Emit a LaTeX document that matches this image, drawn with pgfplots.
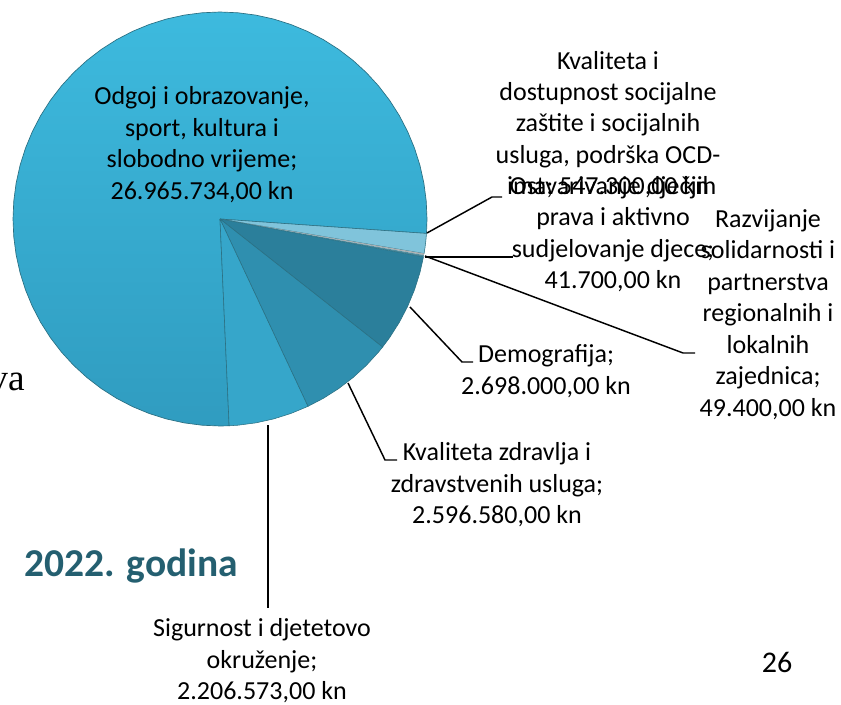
\documentclass[border=0pt]{standalone}
\usepackage{pgfplots}
\pgfplotsset{compat=1.18}
\usepackage{fontspec}
\setmainfont{Carlito}
\newfontfamily\seriffont{Liberation Serif}
\definecolor{cOdgT}{HTML}{3DBADE}
\definecolor{cOdgB}{HTML}{309CC0}
\definecolor{cSoc}{HTML}{80C4DB}
\definecolor{cOst}{HTML}{AEB2B4}
\definecolor{cRaz}{HTML}{4F8C9E}
\definecolor{cDem}{HTML}{2B7F9B}
\definecolor{cZdr}{HTML}{2F8FAF}
\definecolor{cSig}{HTML}{36A6CA}
\definecolor{cEdge}{HTML}{2A6F82}
\definecolor{cTitle}{HTML}{245F70}
\newcommand{\lab}{\fontsize{19.5}{23.6}\selectfont}
\begin{document}
\begin{tikzpicture}
\begin{axis}[name=ax, hide axis, x=0.75pt, y=0.75pt, scale only axis,
  xmin=-220, xmax=621, ymin=-485, ymax=219, clip=false]
% Odgoj i obrazovanje: 26.965.734,00 kn (276.53 deg)
\addplot[data cs=polar, top color=cOdgT, bottom color=cOdgB, draw=cEdge, line width=0.5pt] coordinates {
(0,0) (-4,207) (0,207) (5,207) (10,207) (15,207) (20,207) (25,207) (30,207) (35,207) (40,207)
(45,207) (50,207) (55,207) (60,207) (65,207) (70,207) (75,207) (80,207) (85,207) (90,207)
(95,207) (100,207) (105,207) (110,207) (115,207) (120,207) (125,207) (130,207) (135,207)
(140,207) (145,207) (150,207) (155,207) (160,207) (165,207) (170,207) (175,207) (180,207)
(185,207) (190,207) (195,207) (200,207) (205,207) (210,207) (215,207) (220,207) (225,207)
(230,207) (235,207) (240,207) (245,207) (250,207) (255,207) (260,207) (265,207) (270,207)
(272.53,207) (0,0)};
% Kvaliteta i dostupnost socijalne zastite: 547.300,00 kn
\addplot[data cs=polar, fill=cSoc, draw=cEdge, line width=0.4pt] coordinates {
(0,0) (-4,207) (-6,207) (-8,207) (-9.61,207) (0,0)};
% Ostvarivanje djecjih prava: 41.700,00 kn
\addplot[data cs=polar, fill=cOst, draw=none] coordinates {
(0,0) (-9.61,207) (-10.04,207) (0,0)};
% Razvijanje solidarnosti: 49.400,00 kn
\addplot[data cs=polar, fill=cRaz, draw=none] coordinates {
(0,0) (-10.04,207) (-10.55,207) (0,0)};
% Demografija: 2.698.000,00 kn
\addplot[data cs=polar, fill=cDem, draw=cEdge, line width=0.4pt] coordinates {
(0,0) (-10.55,207) (-15,207) (-20,207) (-25,207) (-30,207) (-35,207) (-38.22,207) (0,0)};
% Kvaliteta zdravlja: 2.596.580,00 kn
\addplot[data cs=polar, fill=cZdr, draw=cEdge, line width=0.4pt] coordinates {
(0,0) (-38.22,207) (-40,207) (-45,207) (-50,207) (-55,207) (-60,207) (-64.85,207) (0,0)};
% Sigurnost i djetetovo okruzenje: 2.206.573,00 kn
\addplot[data cs=polar, fill=cSig, draw=cEdge, line width=0.4pt] coordinates {
(0,0) (-64.85,207) (-70,207) (-75,207) (-80,207) (-85,207) (-87.47,207) (0,0)};
% leader lines
\addplot[black, line width=1.1pt] coordinates {(207,-14) (272,22) (282,22)};
\addplot[black, line width=1.1pt] coordinates {(205,-38) (293,-38)};
\addplot[black, line width=1.1pt] coordinates {(205,-37) (463,-134) (475,-134)};
\addplot[black, line width=1.1pt] coordinates {(190,-88) (242,-143) (253,-143)};
\addplot[black, line width=1.1pt] coordinates {(128,-164) (165,-241) (177,-241)};
\addplot[black, line width=1.1pt] coordinates {(48,-206) (48,-389)};
% labels
\node[align=center, font=\lab, inner sep=0pt] at (axis cs:-18,74.5) {Odgoj i obrazovanje,\\sport, kultura i\\slobodno vrijeme;\\26.965.734,00 kn};
\node[align=center, font=\lab, inner sep=0pt] at (axis cs:388,94.4) {Kvaliteta i\\dostupnost socijalne\\zaštite i socijalnih\\usluga, podrška OCD-\\ima; 547.300,00 kn};
\node[align=center, font=\lab, inner sep=0pt] at (axis cs:393,-15.3) {Ostvarivanje dječjih\\prava i aktivno\\sudjelovanje djece;\\41.700,00 kn};
\node[align=center, font=\lab, inner sep=0pt] at (axis cs:548,-95.4) {Razvijanje\\solidarnosti i\\partnerstva\\regionalnih i\\lokalnih\\zajednica;\\49.400,00 kn};
\node[align=center, font=\lab, inner sep=0pt] at (axis cs:326,-152) {Demografija;\\2.698.000,00 kn};
\node[align=center, font=\lab, inner sep=0pt] at (axis cs:277,-266) {Kvaliteta zdravlja i\\zdravstvenih usluga;\\2.596.580,00 kn};
\node[align=center, font=\lab, inner sep=0pt] at (axis cs:42,-442) {Sigurnost i djetetovo\\okruženje;\\2.206.573,00 kn};
\node[anchor=west, inner sep=0pt, text=cTitle, font=\fontsize{29.6}{34}\selectfont\bfseries] at (axis cs:-196,-347) {2022. godina};
\node[inner sep=0pt, font=\fontsize{22.5}{27}\selectfont] at (axis cs:557,-443) {26};
\node[anchor=base east, inner sep=0pt, font=\seriffont\fontsize{28}{32}\selectfont] at (axis cs:-195,-171) {va};
\end{axis}
\pgfresetboundingbox
\path[use as bounding box] (ax.south west) rectangle (ax.north east);
\end{tikzpicture}
\end{document}
